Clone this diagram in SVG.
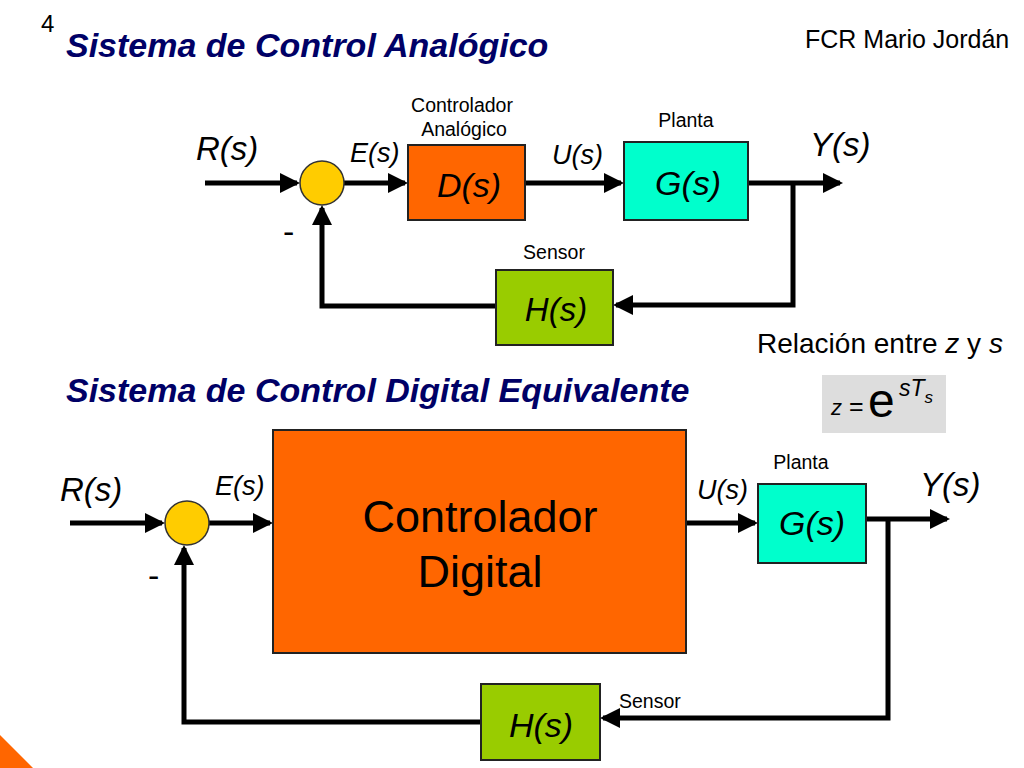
<svg xmlns="http://www.w3.org/2000/svg" width="1024" height="768" viewBox="0 0 1024 768">
<defs>
<style>
.t{font-family:"Liberation Sans",Arial,sans-serif;fill:#000}
.ti{font-family:"Liberation Sans",Arial,sans-serif;font-style:italic;fill:#000}
.h{font-family:"Liberation Sans",Arial,sans-serif;font-style:italic;font-weight:bold;fill:#000066;font-size:34px}
.w{fill:none;stroke:#000;stroke-width:5;stroke-linejoin:miter}
.blk{stroke:#222;stroke-width:2}
.s{font-size:19.5px}
</style>
<marker id="ar" markerWidth="4" markerHeight="4" refX="3.4" refY="2" orient="auto" markerUnits="strokeWidth">
<path d="M0,0 L4,2 L0,4 Z" fill="#000"/>
</marker>
</defs>
<rect width="1024" height="768" fill="#fff"/>
<polygon points="0,735 33,768 0,768" fill="#FF6600"/>
<text class="t" x="41" y="32" font-size="24">4</text>
<text class="h" x="66" y="57">Sistema de Control Analógico</text>
<text class="t" x="805" y="48" font-size="25">FCR Mario Jordán</text>

<g id="connectors">
<path class="w" d="M205,183 H297"  marker-end="url(#ar)"/>
<path class="w" d="M344,183 H405" marker-end="url(#ar)"/>
<path class="w" d="M525,183 H621" marker-end="url(#ar)"/>
<path class="w" d="M748,183 H840" marker-end="url(#ar)"/>
<path class="w" d="M793,183 V305 H616" marker-end="url(#ar)"/>
<path class="w" d="M496,306 H322 V208" marker-end="url(#ar)"/>
<path class="w" d="M70,523 H162" marker-end="url(#ar)"/>
<path class="w" d="M209,523 H270" marker-end="url(#ar)"/>
<path class="w" d="M686,523 H755" marker-end="url(#ar)"/>
<path class="w" d="M866,519 H947" marker-end="url(#ar)"/>
<path class="w" d="M888,519 V718 H603" marker-end="url(#ar)"/>
<path class="w" d="M481,722 H184 V548" marker-end="url(#ar)"/>
</g>

<g id="sum1"><circle cx="322" cy="183" r="22" fill="#FFCC00" stroke="#333" stroke-width="1.5"/></g>
<g id="D"><rect class="blk" x="408" y="145" width="117" height="75" fill="#FF6600"/>
<text class="ti" x="469" y="197" font-size="34" text-anchor="middle">D(s)</text>
<text class="t s" x="462" y="112" text-anchor="middle">Controlador</text>
<text class="t s" x="464" y="136" text-anchor="middle">Analógico</text></g>
<g id="G"><rect class="blk" x="624" y="142" width="124" height="78" fill="#00FFCC"/>
<text class="ti" x="688" y="195" font-size="34" text-anchor="middle">G(s)</text>
<text class="t s" x="686" y="127" text-anchor="middle">Planta</text></g>
<g id="H"><rect class="blk" x="496" y="270" width="117" height="75" fill="#99CC00"/>
<text class="ti" x="556" y="321" font-size="33" text-anchor="middle">H(s)</text>
<text class="t s" x="554" y="259" text-anchor="middle">Sensor</text></g>
<text class="ti" x="196" y="160" font-size="33">R(s)</text>
<text class="ti" x="350" y="162" font-size="27">E(s)</text>
<text class="ti" x="552" y="164" font-size="27">U(s)</text>
<text class="ti" x="810" y="156" font-size="33">Y(s)</text>
<text class="t" x="283" y="243" font-size="34">-</text>

<text class="t" x="757" y="353" font-size="28">Relación entre <tspan font-style="italic">z</tspan> y <tspan font-style="italic">s</tspan></text>
<g id="formula"><rect x="822" y="375" width="124" height="58" fill="#DDDDDD"/>
<text class="ti" x="831" y="415" font-size="22">z</text>
<text class="t" x="849" y="415" font-size="25">=</text>
<text class="t" x="868" y="417" font-size="48">e</text>
<text class="ti" x="899" y="396" font-size="23">sT<tspan font-size="17" dy="7">s</tspan></text></g>

<text class="h" x="66" y="402">Sistema de Control Digital Equivalente</text>

<g id="sum2"><circle cx="187" cy="523" r="22" fill="#FFCC00" stroke="#333" stroke-width="1.5"/></g>
<g id="CD"><rect class="blk" x="273" y="430" width="413" height="223" fill="#FF6600"/>
<text class="t" x="480" y="532" font-size="45" text-anchor="middle">Controlador</text>
<text class="t" x="480" y="587" font-size="45" text-anchor="middle">Digital</text></g>
<g id="G2"><rect class="blk" x="758" y="484" width="108" height="79" fill="#00FFCC"/>
<text class="ti" x="812" y="535" font-size="34" text-anchor="middle">G(s)</text>
<text class="t s" x="801" y="469" text-anchor="middle">Planta</text></g>
<g id="H2"><rect class="blk" x="481" y="684" width="119" height="76" fill="#99CC00"/>
<text class="ti" x="541" y="737" font-size="34" text-anchor="middle">H(s)</text>
<text class="t s" x="619" y="708">Sensor</text></g>
<text class="ti" x="60" y="501" font-size="33">R(s)</text>
<text class="ti" x="215" y="495" font-size="27">E(s)</text>
<text class="ti" x="697" y="499" font-size="27">U(s)</text>
<text class="ti" x="920" y="496" font-size="33">Y(s)</text>
<text class="t" x="148" y="587" font-size="34">-</text>
</svg>
